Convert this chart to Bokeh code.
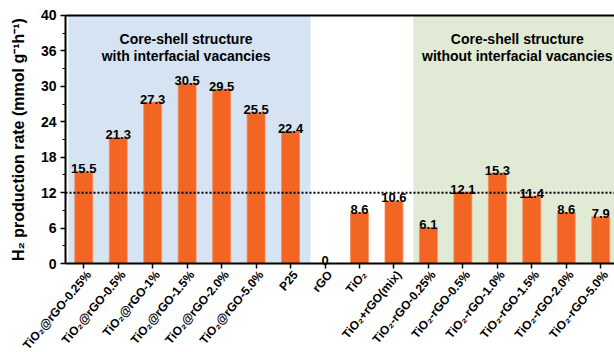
from bokeh.plotting import figure
from bokeh.models import ColumnDataSource, FixedTicker, LinearAxis
from bokeh.core.properties import value
from bokeh.embed import file_html
from bokeh.resources import INLINE

# Samples, in plotting order
categories = [
    "TiO₂@rGO-0.25%", "TiO₂@rGO-0.5%", "TiO₂@rGO-1%", "TiO₂@rGO-1.5%",
    "TiO₂@rGO-2.0%", "TiO₂@rGO-5.0%", "P25", "rGO", "TiO₂", "TiO₂+rGO(mix)",
    "TiO₂-rGO-0.25%", "TiO₂-rGO-0.5%", "TiO₂-rGO-1.0%", "TiO₂-rGO-1.5%",
    "TiO₂-rGO-2.0%", "TiO₂-rGO-5.0%",
]
# H2 production rate, mmol g^-1 h^-1
rates = [15.5, 21.3, 27.3, 30.5, 29.5, 25.5, 22.4, 0, 8.6, 10.6,
         6.1, 12.1, 15.3, 11.4, 8.6, 7.9]
reference_level = 12

y_ticks = [0, 6, 12, 18, 24, 30, 36, 42]
y_tick_labels = ["0", "6", "12", "18", "24", "30", "36", "40"]
y_minor_ticks = [3, 9, 15, 21, 27, 33, 39]

group_titles = [
    ("Core-shell structure", "with interfacial vacancies"),
    ("Core-shell structure", "without interfacial vacancies"),
]

FONT = value("Liberation Sans")
ORANGE = "#F26522"
BLUE_BG = "#D5E3F2"
GREEN_BG = "#E1EAD5"

X_LO, X_HI = 0.47, 16.40      # extent of the plotting box in x
Y_LO, Y_HI = 0, 42            # extent of the value axis

xs = list(range(1, len(categories) + 1))
src = ColumnDataSource(dict(
    x=xs, top=rates, label=[f"{v:g}" for v in rates],
))
names = ColumnDataSource(dict(x=xs, y=[0] * len(xs), name=categories))

# The frame fills the whole page; the axes are pinned inside it so the
# slanted sample names and the value labels have room around the box.
p = figure(
    width=614, height=352, output_backend="svg", toolbar_location=None,
    x_range=(-1.416, X_HI), y_range=(-15.07, 44.54),
    min_border=0,
)
p.outline_line_color = None
p.xgrid.visible = False
p.ygrid.visible = False
p.background_fill_color = "white"
p.border_fill_color = "white"

# shaded groups
p.quad(left=[0.556, 10.565], right=[7.578, X_HI + 0.2], bottom=[0, 0],
       top=[Y_HI, Y_HI], fill_color=[BLUE_BG, GREEN_BG], line_color=None)

# bars and their values
p.vbar(x="x", top="top", bottom=0, width=0.52, source=src,
       fill_color=ORANGE, line_color="#F58A5A", line_width=0.8)
p.text(x="x", y="top", text="label", source=src, y_offset=-3,
       text_align="center", text_baseline="alphabetic",
       text_font=FONT, text_font_style="bold", text_font_size="13px",
       text_color="black")

# dotted reference level across the box
p.segment(x0=[X_LO], x1=[X_HI], y0=[reference_level], y1=[reference_level],
          line_color="black", line_width=2, line_dash="2 2")

# group titles
title_x = [3.97, 3.97, 13.58, 13.58]
title_y = [38.0, 35.2, 38.0, 35.2]
title_txt = [group_titles[0][0], group_titles[0][1],
             group_titles[1][0], group_titles[1][1]]
p.text(x=title_x, y=title_y, text=title_txt, text_align="center",
       text_baseline="alphabetic", text_font=FONT, text_font_style="bold",
       text_font_size="14px", text_color="black")

# x axis pinned to the zero line, slanted sample names under each tick
xa = p.xaxis[0]
xa.fixed_location = 0
xa.bounds = (X_LO, X_HI)
xa.ticker = FixedTicker(ticks=xs)
xa.major_label_overrides = {x: "" for x in xs}
xa.major_label_standoff = 0
xa.axis_line_width = 2
xa.axis_line_color = "black"
xa.major_tick_in = 0
xa.major_tick_out = 5
xa.major_tick_line_width = 1.5
xa.minor_tick_line_color = None

p.text(x="x", y="y", text="name", source=names, angle=0.87,
       x_offset=5, y_offset=9, text_align="right", text_baseline="middle",
       text_font=FONT, text_font_style="bold", text_font_size="12px",
       text_color="black")

# closing line along the top of the box
top_axis = LinearAxis(fixed_location=Y_HI, bounds=(X_LO, X_HI),
                      ticker=FixedTicker(ticks=[]), axis_line_width=2,
                      axis_line_color="black", major_tick_line_color=None,
                      minor_tick_line_color=None,
                      major_label_text_font_size="0px")
p.add_layout(top_axis, "above")

# y axis pinned to the left edge of the box
ya = p.yaxis[0]
ya.fixed_location = X_LO
ya.bounds = (Y_LO, Y_HI)
ya.ticker = FixedTicker(ticks=y_ticks, minor_ticks=y_minor_ticks)
ya.major_label_overrides = {t: l for t, l in zip(y_ticks, y_tick_labels)}
ya.major_label_text_font = "Liberation Sans"
ya.major_label_text_font_style = "bold"
ya.major_label_text_font_size = "14px"
ya.major_label_text_color = "black"
ya.axis_line_width = 2
ya.axis_line_color = "black"
ya.major_tick_in = 0
ya.major_tick_out = 5
ya.major_tick_line_width = 1.5
ya.minor_tick_in = 0
ya.minor_tick_out = 3
ya.minor_tick_line_width = 1
ya.major_label_standoff = 4
ya.axis_label = "H₂ production rate (mmol g⁻¹h⁻¹)"
ya.axis_label_text_font = "Liberation Sans"
ya.axis_label_text_font_style = "bold"
ya.axis_label_text_font_size = "16px"
ya.axis_label_text_color = "black"
ya.axis_label_standoff = 11

open("out.html", "w").write(file_html(p, INLINE))
